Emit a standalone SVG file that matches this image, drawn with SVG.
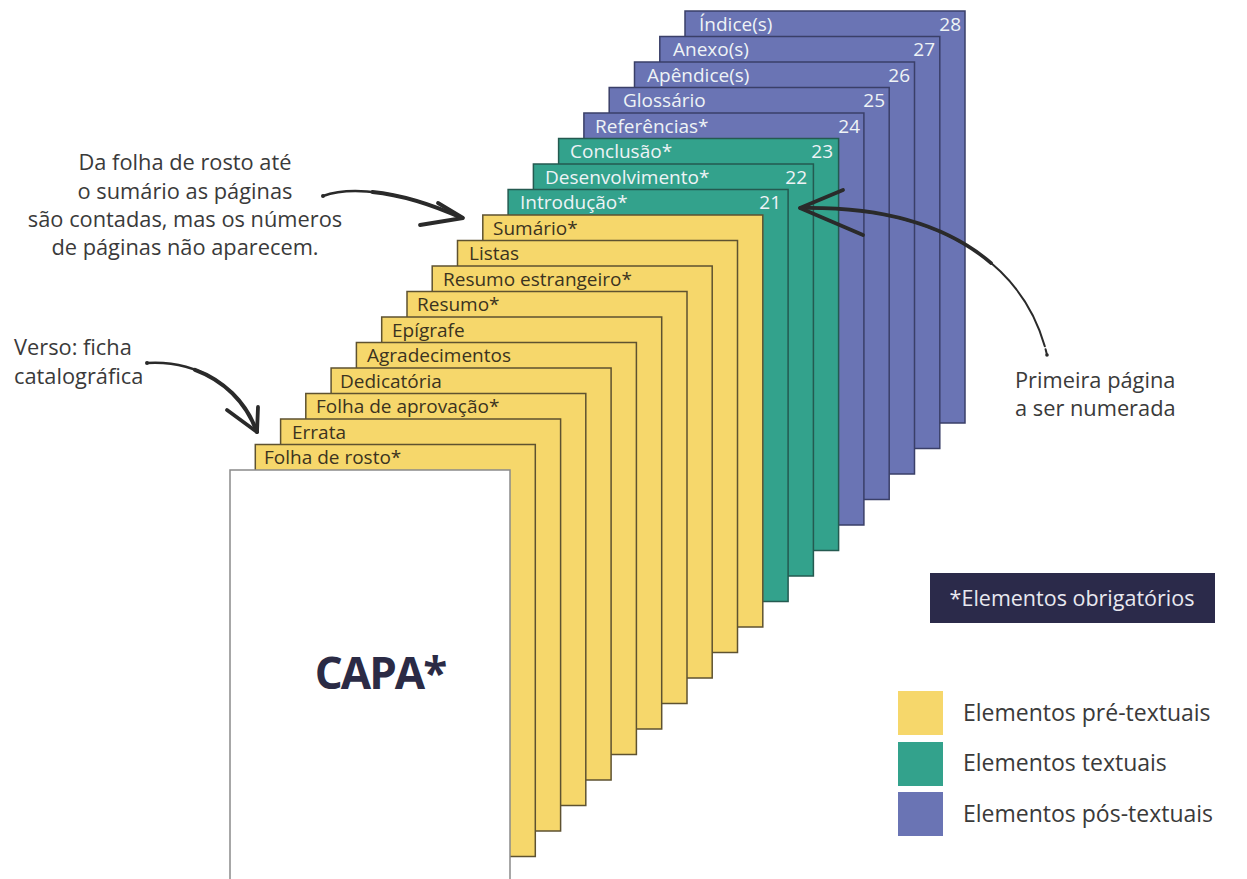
<svg xmlns="http://www.w3.org/2000/svg" width="1247" height="879" viewBox="0 0 1247 879">
<style>
  .pg rect { stroke-width: 1.5; }
  .y rect { fill: #F6D76B; stroke: #5e5230; }
  .g rect { fill: #33A28C; stroke: #245a50; }
  .b rect { fill: #6A74B4; stroke: #3a3f68; }
  .lbl { font-family: "Open Sans", "Noto Sans", sans-serif; font-size: 19px; font-weight: 500; }
  .y .lbl { fill: #3b3320; }
  .g .lbl, .b .lbl { fill: #eef3f6; }
  .num { text-anchor: end; }
  .note { font-family: "Open Sans", "Noto Sans", sans-serif; font-size: 21.8px; fill: #3a3a3a; }
  .leg { font-family: "Open Sans", "Noto Sans", sans-serif; font-size: 23px; fill: #3a3a3a; }
  .arr { fill: none; stroke: #2a2a2a; stroke-linecap: round; stroke-linejoin: round; }
  .thick { stroke-dasharray: 0 35 65 1000; }
</style>
<defs>
  <path id="c1" d="M 323 196 C 350 186, 400 190, 462 218"/>
  <path id="c2" d="M 147 363 C 195 360, 240 385, 257 432"/>
  <path id="c3" d="M 1047 355 C 1030 280, 960 205, 800 208"/>
</defs>
<rect width="1247" height="879" fill="#ffffff"/>

<g id="pages">
  <g id="p18" class="pg b"><rect x="685" y="11" width="280" height="412"/><text class="lbl" x="699" y="30.5">Índice(s)</text><text class="lbl num" x="961" y="30.5">28</text></g>
  <g id="p17" class="pg b"><rect x="659.8" y="36.5" width="280" height="412"/><text class="lbl" x="673" y="56">Anexo(s)</text><text class="lbl num" x="935" y="56">27</text></g>
  <g id="p16" class="pg b"><rect x="634.5" y="62" width="280" height="412"/><text class="lbl" x="647" y="81.5">Apêndice(s)</text><text class="lbl num" x="910" y="81.5">26</text></g>
  <g id="p15" class="pg b"><rect x="609.2" y="87.5" width="280" height="412"/><text class="lbl" x="623" y="107">Glossário</text><text class="lbl num" x="885" y="107">25</text></g>
  <g id="p14" class="pg b"><rect x="583.9" y="113" width="280" height="412"/><text class="lbl" x="595" y="132.5">Referências*</text><text class="lbl num" x="860" y="132.5">24</text></g>
  <g id="p13" class="pg g"><rect x="558.6" y="138.5" width="280" height="412"/><text class="lbl" x="570" y="158">Conclusão*</text><text class="lbl num" x="833" y="158">23</text></g>
  <g id="p12" class="pg g"><rect x="533.4" y="164" width="280" height="412"/><text class="lbl" x="545" y="183.5">Desenvolvimento*</text><text class="lbl num" x="807" y="183.5">22</text></g>
  <g id="p11" class="pg g"><rect x="508.1" y="189.5" width="280" height="412"/><text class="lbl" x="520" y="209">Introdução*</text><text class="lbl num" x="781" y="209">21</text></g>
  <g id="p10" class="pg y"><rect x="482.8" y="215" width="280" height="412"/><text class="lbl" x="493" y="234.5">Sumário*</text></g>
  <g id="p9" class="pg y"><rect x="457.5" y="240.5" width="280" height="412"/><text class="lbl" x="469" y="260">Listas</text></g>
  <g id="p8" class="pg y"><rect x="432.2" y="266" width="280" height="412"/><text class="lbl" x="443" y="285.5">Resumo estrangeiro*</text></g>
  <g id="p7" class="pg y"><rect x="407" y="291.5" width="280" height="412"/><text class="lbl" x="417" y="311">Resumo*</text></g>
  <g id="p6" class="pg y"><rect x="381.7" y="317" width="280" height="412"/><text class="lbl" x="392" y="336.5">Epígrafe</text></g>
  <g id="p5" class="pg y"><rect x="356.4" y="342.5" width="280" height="412"/><text class="lbl" x="367" y="362">Agradecimentos</text></g>
  <g id="p4" class="pg y"><rect x="331.1" y="368" width="280" height="412"/><text class="lbl" x="340" y="387.5">Dedicatória</text></g>
  <g id="p3" class="pg y"><rect x="305.8" y="393.5" width="280" height="412"/><text class="lbl" x="316" y="413">Folha de aprovação*</text></g>
  <g id="p2" class="pg y"><rect x="280.6" y="419" width="280" height="412"/><text class="lbl" x="292" y="438.5">Errata</text></g>
  <g id="p1" class="pg y"><rect x="255.3" y="444.5" width="280" height="412"/><text class="lbl" x="264" y="464">Folha de rosto*</text></g>
  <g id="p0" class="pg"><rect x="230" y="470" width="280" height="414" fill="#ffffff" stroke="#8a8a8a" stroke-width="1.5"/><text x="380" y="689" text-anchor="middle" font-family="'Open Sans', 'Noto Sans', sans-serif" font-size="44" font-weight="bold" letter-spacing="-2" fill="#2b2b45">CAPA*</text></g>
</g>

<g id="connectors">
  <path class="arr" d="M 323 196 C 350 186, 400 190, 462 218" stroke-width="2.4"/>
  <path class="arr thick" pathLength="100" d="M 323 196 C 350 186, 400 190, 462 218" stroke-width="4"/>
  <path class="arr" d="M 438 203 L 463 218 L 420 225" stroke-width="3.8"/>
  <path class="arr" d="M 147 363 C 195 360, 240 385, 257 432" stroke-width="2.4"/>
  <path class="arr thick" pathLength="100" d="M 147 363 C 195 360, 240 385, 257 432" stroke-width="4"/>
  <path class="arr" d="M 227 410 L 257 432 L 258 407" stroke-width="3.8"/>
  <path class="arr" d="M 1047 355 C 1030 280, 960 205, 800 208" stroke-width="2" stroke-dasharray="6 3 1000"/>
  <path class="arr thick" pathLength="100" d="M 1047 355 C 1030 280, 960 205, 800 208" stroke-width="3.6"/>
  <path class="arr" d="M 843 190 L 800 208 L 863 235" stroke-width="3.8"/>
</g>

<g id="note-top">
  <text class="note" text-anchor="middle" x="185" y="170">Da folha de rosto até</text>
  <text class="note" text-anchor="middle" x="185" y="199">o sumário as páginas</text>
  <text class="note" text-anchor="middle" x="185" y="227">são contadas, mas os números</text>
  <text class="note" text-anchor="middle" x="185" y="255">de páginas não aparecem.</text>
</g>
<g id="note-verso">
  <text class="note" x="14" y="355">Verso: ficha</text>
  <text class="note" x="14" y="384">catalográfica</text>
</g>
<g id="note-primeira">
  <text class="note" x="1015" y="388">Primeira página</text>
  <text class="note" x="1015" y="416">a ser numerada</text>
</g>

<g id="legend">
  <rect x="930" y="573" width="285" height="50" fill="#2B2A4A"/>
  <text x="1072" y="606" text-anchor="middle" font-family="'Open Sans', 'Noto Sans', sans-serif" font-size="21.5" fill="#e8e8f0">*Elementos obrigatórios</text>
  <rect x="898" y="691" width="45" height="44" fill="#F6D76B"/>
  <text class="leg" x="963" y="721">Elementos pré-textuais</text>
  <rect x="898" y="742" width="45" height="44" fill="#33A28C"/>
  <text class="leg" x="963" y="771">Elementos textuais</text>
  <rect x="898" y="792" width="45" height="44" fill="#6A74B4"/>
  <text class="leg" x="963" y="822">Elementos pós-textuais</text>
</g>
</svg>
